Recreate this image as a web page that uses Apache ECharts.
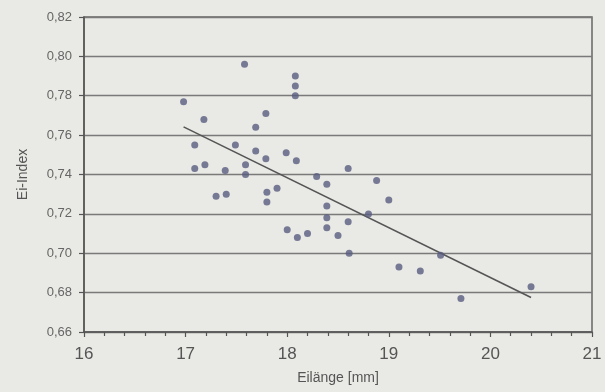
<!DOCTYPE html>
<html><head><meta charset="utf-8">
<script src="https://cdn.jsdelivr.net/npm/echarts@6/dist/echarts.min.js"></script>
<style>html,body{margin:0;padding:0;background:#e9e9e5;}#c{width:605px;height:392px;}</style>
</head><body><div id="c"></div>
<script>
var eilaenge = [17.58,18.08,18.08,18.08,16.98,17.18,17.79,17.69,17.09,17.49,17.69,17.99,17.79,18.09,17.09,17.19,17.39,17.59,17.59,18.29,18.39,18.60,18.88,17.30,17.40,17.80,17.90,17.80,18.39,18.39,18.60,18.39,18.80,18.00,18.10,18.20,18.50,18.61,19.00,19.10,19.31,19.51,19.71,20.40];
var eiIndex = [0.796,0.790,0.785,0.780,0.777,0.768,0.771,0.764,0.755,0.755,0.752,0.751,0.748,0.747,0.743,0.745,0.742,0.745,0.740,0.739,0.735,0.743,0.737,0.729,0.730,0.731,0.733,0.726,0.724,0.718,0.716,0.713,0.720,0.712,0.708,0.710,0.709,0.700,0.727,0.693,0.691,0.699,0.677,0.683];
var trendX = [16.98, 20.40];
var trendY = [0.7642, 0.6775];
var xTicks = [16,17,18,19,20,21];
var yTicks = [0.66,0.68,0.70,0.72,0.74,0.76,0.78,0.80,0.82];

var pts = eilaenge.map(function(x,i){return [x, eiIndex[i]];});
var line = trendX.map(function(x,i){return [x, trendY[i]];});
var chart = echarts.init(document.getElementById('c'), null, {renderer:'canvas'});
chart.setOption({
  backgroundColor:'#e9e9e5',
  animation:false,
  grid:{left:84,right:13,top:17,bottom:60,show:true,borderColor:'#666',borderWidth:1.5,backgroundColor:'transparent'},
  xAxis:{type:'value',min:xTicks[0],max:xTicks[xTicks.length-1],interval:1,
    name:'Eilänge [mm]',nameLocation:'middle',nameGap:39,
    nameTextStyle:{fontFamily:'Liberation Sans',fontSize:14,color:'#555'},
    axisLine:{lineStyle:{color:'#555',width:1.5}},
    axisTick:{show:true,inside:false,length:5,lineStyle:{color:'#555',width:1.2}},
    minorTick:{show:true,splitNumber:5,length:4,lineStyle:{color:'#555',width:1.2}},
    axisLabel:{fontFamily:'Liberation Sans',fontSize:17,color:'#555',margin:14},
    splitLine:{show:false}},
  yAxis:{type:'value',min:yTicks[0],max:yTicks[yTicks.length-1],interval:0.02,
    name:'Ei-Index',nameLocation:'middle',nameGap:54,nameRotate:90,
    nameTextStyle:{fontFamily:'Liberation Sans',fontSize:14,color:'#555'},
    axisLine:{show:true,lineStyle:{color:'#555',width:1.5}},
    axisTick:{show:true,inside:false,length:5,lineStyle:{color:'#555',width:1.2}},
    axisLabel:{fontFamily:'Liberation Sans',fontSize:13,color:'#666',margin:12,
      formatter:function(v){return v.toFixed(2).replace('.',',');}},
    splitLine:{show:true,lineStyle:{color:'#7a7a7a',width:1.3}}},
  series:[
    {type:'scatter',data:pts,symbol:'circle',symbolSize:7,itemStyle:{color:'#595d80'},z:3},
    {type:'line',data:line,symbol:'none',lineStyle:{color:'#555',width:1.6},z:2}
  ]
});
</script></body></html>
